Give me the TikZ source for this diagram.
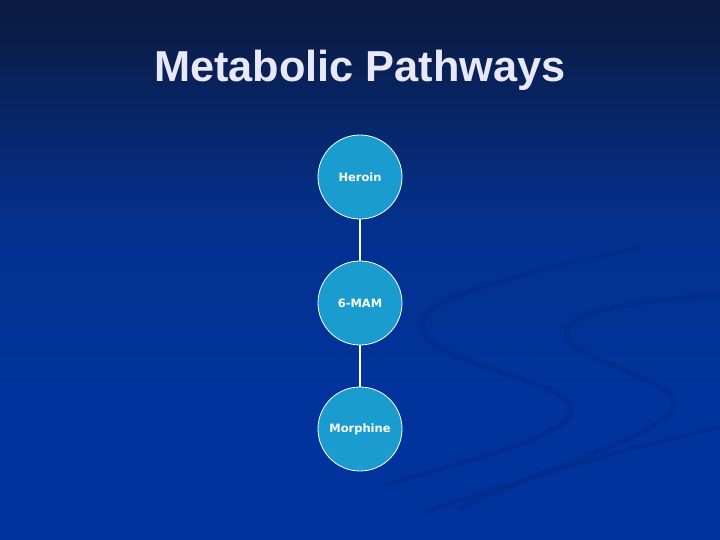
\documentclass[tikz,border=0pt]{standalone}
\usepackage{fontspec}
\setmainfont{Liberation Sans}
\newfontfamily\nodefont{DejaVu Sans}
\definecolor{bgtop}{HTML}{0B1A3E}
\definecolor{bgmid}{HTML}{04318F}
\definecolor{bgblue}{HTML}{00339C}
\definecolor{swoosh}{HTML}{002C88}
\definecolor{circfill}{HTML}{1A9CCF}
\definecolor{titlecol}{HTML}{E8E8FA}
\tikzset{
  stage/.style={circle, draw=white, line width=0.8pt, fill=circfill, minimum size=84bp, inner sep=0pt,
    text=white, font=\nodefont\bfseries\fontsize{11.5}{13}\selectfont},
  link/.style={draw=white, line width=2.2bp},
  sw/.style={draw=swoosh, line cap=round, opacity=0.6}
}
\begin{document}
\begin{tikzpicture}[x=1bp,y=-1bp]
\useasboundingbox (0,0) rectangle (720,540);
% background
\fill[bgblue] (0,0) rectangle (720,540);
\shade[top color=bgtop, bottom color=bgmid] (0,0) rectangle (720,230);
\shade[top color=bgmid, bottom color=bgblue] (0,229) rectangle (720,400);
% swooshes
\draw[sw, line width=5bp] (640,247) .. controls (520,275) and (400,300) .. (425,335)
  .. controls (450,370) and (590,385) .. (570,415) .. controls (555,440) and (470,460) .. (385,485);
\draw[sw, line width=5bp] (717,295) .. controls (650,300) and (560,310) .. (567,335)
  .. controls (575,365) and (690,380) .. (672,410) .. controls (650,440) and (540,470) .. (460,508);
\draw[sw, line width=4bp] (720,427) .. controls (620,450) and (520,480) .. (425,512);
% title
\node[font=\bfseries\fontsize{43.5}{50}\selectfont, text=titlecol] (title) at (360,70) {Metabolic Pathways};
% nodes
\node[stage] (heroin) at (360,177) {Heroin};
\node[stage] (mam) at (360,303) {6-MAM};
\node[stage] (morphine) at (360,429) {Morphine};
\draw[link] (heroin.south) -- (mam.north);
\draw[link] (mam.south) -- (morphine.north);
\end{tikzpicture}
\end{document}
